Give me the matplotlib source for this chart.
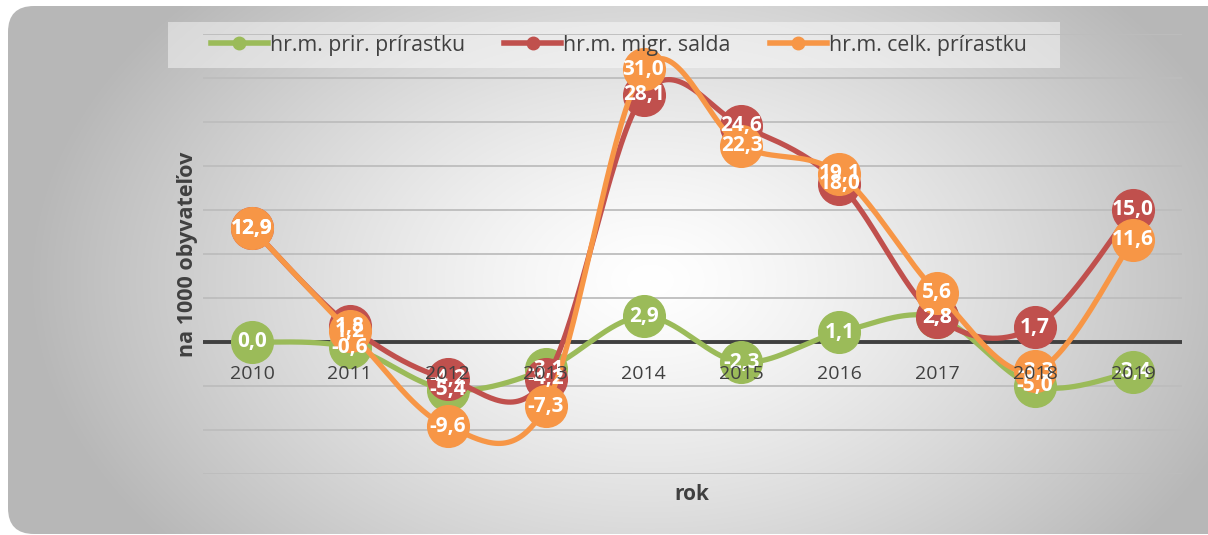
import matplotlib.pyplot as plt
import numpy as np
from matplotlib.patches import FancyBboxPatch, Rectangle
from matplotlib.lines import Line2D

plt.rcParams['font.family'] = ['Open Sans', 'DejaVu Sans']

years = ['2010', '2011', '2012', '2013', '2014', '2015', '2016', '2017', '2018', '2019']
prir = [0.0, -0.6, -5.4, -3.1, 2.9, -2.3, 1.1, 2.8, -5.0, -3.4]
migr = [12.9, 1.8, -4.2, -4.2, 28.1, 24.6, 18.0, 2.8, 1.7, 15.0]
celk = [12.9, 1.2, -9.6, -7.3, 31.0, 22.3, 19.1, 5.6, -3.3, 11.6]
names = ['hr.m. prir. prírastku', 'hr.m. migr. salda', 'hr.m. celk. prírastku']
colors = ['#9BBB59', '#C0504D', '#F79646']


def smooth(xs, ys, n=40):
    # excel-like smoothed line (bezier through the points)
    pts = np.column_stack([xs, ys]).astype(float)
    P = np.vstack([pts[0], pts, pts[-1]])
    out = []
    t = np.linspace(0, 1, n)[:, None]
    for i in range(1, len(P) - 2):
        p0, p1, p2, p3 = P[i - 1], P[i], P[i + 1], P[i + 2]
        c1 = p1 + (p2 - p0) / 6
        c2 = p2 - (p3 - p1) / 6
        seg = (1 - t)**3 * p1 + 3 * (1 - t)**2 * t * c1 + 3 * (1 - t) * t**2 * c2 + t**3 * p2
        out.append(seg)
    out = np.vstack(out)
    return out[:, 0], out[:, 1]


W, H = 1208, 535
fig = plt.figure(figsize=(W / 100, H / 100), dpi=100)

# background card with radial gradient
bg = fig.add_axes([0, 0, 1, 1])
bg.set_xlim(0, W)
bg.set_ylim(H, 0)
bg.axis('off')
yy, xx = np.mgrid[0:H, 0:W]
r = np.sqrt(((xx - 650) / 620.0)**2 + ((yy - 280) / 420.0)**2)
g = 1.0 - 0.28 * np.clip(r, 0, 1)**1.3
img = np.dstack([g, g, g])
im = bg.imshow(img, extent=(0, W, H, 0), aspect='auto', zorder=0)
card = FancyBboxPatch((8, 6), W + 30, H - 7, boxstyle='round,pad=0,rounding_size=26',
                      transform=bg.transData, facecolor='none', edgecolor='none')
bg.add_patch(card)
im.set_clip_path(card)
# legend backdrop
bg.add_patch(Rectangle((168, 22), 892, 46, facecolor='white', alpha=0.45,
                       edgecolor='none', zorder=1))

ax = fig.add_axes([203 / W, 1 - 474 / H, (1182 - 203) / W, (474 - 34) / H])
ax.patch.set_alpha(0)
x = np.arange(len(years))
ax.set_xlim(-0.5, len(years) - 0.5)
ax.set_ylim(-15, 35)
ax.set_xticks([])
ax.set_yticks([])
for s in ax.spines.values():
    s.set_visible(False)
for gy in np.arange(-15, 36, 5):
    if gy != 0:
        ax.axhline(gy, color='#bdbdbd', lw=1.3, zorder=0)
ax.axhline(0, color='#404040', lw=2.8, zorder=1)

for i, yr in enumerate(years):
    ax.annotate(yr, (i, 0), xytext=(0, -23), textcoords='offset points',
                ha='center', va='center', fontsize=14, color='#404040', zorder=6)

for vals, c in zip([prir, migr, celk], colors):
    sx, sy = smooth(x, vals)
    ax.plot(sx, sy, color=c, lw=3.8, zorder=3, solid_capstyle='round')
    ax.plot(x, vals, 'o', color=c, ms=30, zorder=3)

for vals in [prir, migr, celk]:
    for i, v in enumerate(vals):
        ax.text(i, v, f'{v:.1f}'.replace('.', ','), ha='center', va='center',
                color='white', fontsize=15, fontweight='bold', zorder=5)

handles = [Line2D([], [], color=c, lw=4, marker='o', ms=9) for c in colors]
fig.legend(handles, names, loc='center left', bbox_to_anchor=(211 / W, 1 - 45 / H),
           ncol=3, frameon=False, fontsize=15.3, handlelength=2.68, handletextpad=0.1,
           columnspacing=1.84, borderpad=0, borderaxespad=0, labelcolor='#404040')

fig.text(187 / W, 1 - 254 / H, 'na 1000 obyvateľov', rotation=90, ha='center', va='center',
         fontsize=15.5, fontweight='bold', color='#404040')
fig.text(692 / W, 1 - 494 / H, 'rok', ha='center', va='center',
         fontsize=15, fontweight='bold', color='#404040')

fig.savefig('out.png', dpi=100)
